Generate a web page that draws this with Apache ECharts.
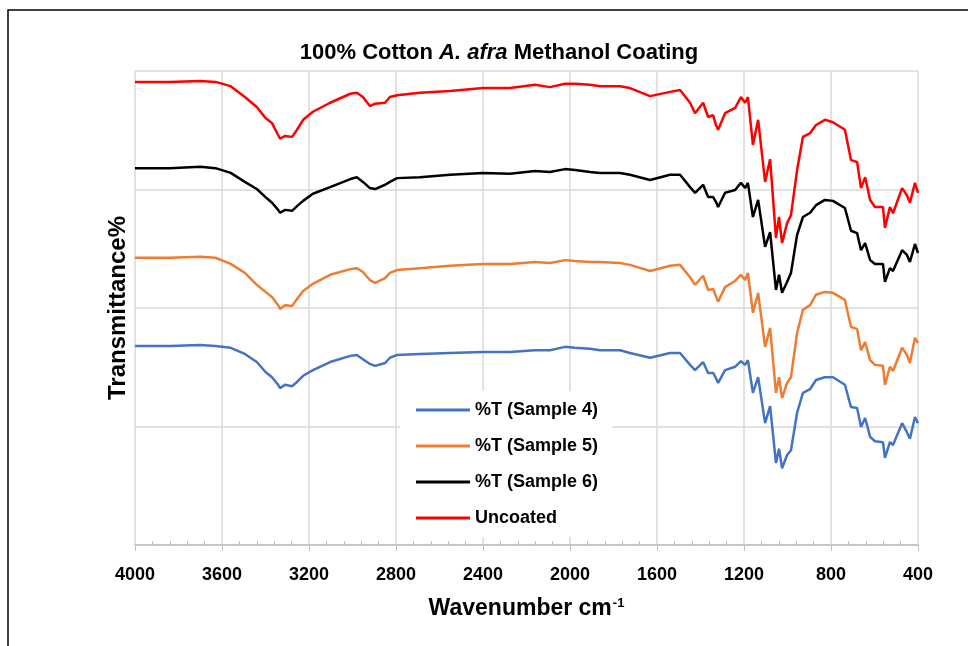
<!DOCTYPE html>
<html>
<head>
<meta charset="utf-8">
<script src="https://cdn.jsdelivr.net/npm/echarts@6/dist/echarts.min.js"></script>
<style>
  html, body { margin: 0; padding: 0; background: #fff; }
  #main { width: 968px; height: 646px; }
</style>
</head>
<body>
<div id="main"></div>
<script>
// 波数 cm-1
var wavenumber = [4000, 3840, 3700, 3630, 3560, 3495, 3440, 3400, 3370, 3342, 3333, 3310, 3278, 3255, 3227, 3182, 3103, 3010, 2980, 2952,
  2920, 2896, 2850, 2828, 2795, 2690, 2552, 2400, 2276, 2161, 2092, 2023, 1977, 1908, 1862, 1770, 1724, 1632, 1540, 1494,
  1448, 1425, 1388, 1365, 1342, 1329, 1319, 1287, 1241, 1214, 1195, 1182, 1159, 1135, 1103, 1080, 1053, 1039, 1025, 1002,
  984, 956, 929, 896, 869, 828, 791, 736, 708, 680, 662, 643, 620, 598, 561, 552, 529, 515, 473, 451,
  437, 414, 400];

// %T (offset)
var sample4 = [42.0, 42.0, 42.2, 42.0, 41.6, 40.3, 38.6, 36.5, 35.4, 33.8, 33.1, 33.8, 33.5, 34.4, 35.7, 36.9, 38.6, 39.9, 40.1, 39.2,
  38.2, 37.8, 38.4, 39.5, 40.1, 40.3, 40.5, 40.7, 40.7, 41.1, 41.1, 41.8, 41.6, 41.4, 41.1, 41.1, 40.5, 39.5, 40.5, 40.5,
  38.0, 36.9, 38.6, 36.3, 36.3, 35.2, 34.2, 36.9, 37.6, 38.8, 38.0, 39.0, 32.1, 35.4, 25.7, 29.3, 17.3, 20.3, 16.2, 19.0,
  20.0, 27.9, 32.1, 32.9, 34.8, 35.4, 35.4, 33.8, 29.1, 28.9, 24.9, 26.8, 22.8, 21.9, 21.7, 18.4, 21.7, 21.1, 25.7, 23.8,
  22.4, 27.0, 25.7];
var sample5 = [60.6, 60.6, 60.8, 60.6, 59.3, 57.4, 54.9, 53.4, 52.3, 50.6, 49.8, 50.6, 50.4, 51.9, 53.6, 55.1, 57.0, 58.2, 58.4, 57.6,
  55.9, 55.3, 56.3, 57.4, 58.0, 58.4, 58.9, 59.3, 59.3, 59.7, 59.5, 60.1, 59.9, 59.7, 59.7, 59.5, 59.1, 57.8, 58.9, 59.1,
  56.5, 54.9, 56.8, 53.8, 54.0, 52.5, 51.3, 54.4, 55.7, 57.0, 55.9, 57.4, 49.0, 53.2, 41.8, 45.8, 32.1, 35.4, 31.0, 34.2,
  35.4, 44.7, 49.6, 50.6, 52.8, 53.4, 53.2, 51.7, 46.0, 45.6, 41.1, 42.8, 39.0, 38.0, 37.8, 33.8, 37.6, 36.7, 41.6, 40.1,
  38.4, 43.7, 42.6];
var sample6 = [79.5, 79.5, 79.8, 79.5, 78.5, 76.6, 75.1, 73.4, 72.2, 70.7, 70.1, 70.7, 70.5, 71.5, 72.6, 74.1, 75.5, 77.2, 77.6, 76.6,
  75.3, 75.1, 76.0, 76.6, 77.4, 77.6, 78.1, 78.5, 78.3, 78.9, 78.7, 79.3, 79.1, 78.7, 78.5, 78.5, 78.1, 77.0, 78.1, 78.1,
  75.5, 74.3, 76.0, 73.4, 73.4, 72.4, 71.3, 74.3, 74.9, 76.4, 75.3, 76.4, 69.2, 72.8, 62.9, 66.0, 53.8, 57.0, 53.2, 55.5,
  57.4, 65.4, 69.2, 70.1, 71.7, 72.8, 72.6, 71.1, 66.3, 65.8, 62.2, 63.7, 60.1, 59.3, 59.3, 55.5, 58.4, 57.8, 62.2, 61.2,
  59.7, 63.5, 61.6];
var uncoated = [97.7, 97.7, 97.9, 97.7, 96.8, 94.5, 92.4, 90.1, 89.0, 86.5, 85.7, 86.3, 86.1, 87.6, 89.7, 91.4, 93.3, 95.2, 95.4, 94.5,
  92.6, 93.1, 93.3, 94.5, 94.9, 95.4, 95.8, 96.4, 96.4, 97.1, 96.6, 97.3, 97.3, 97.1, 96.8, 96.8, 96.4, 94.7, 95.6, 96.0,
  93.3, 91.1, 93.3, 90.3, 90.7, 88.6, 87.6, 91.1, 92.2, 94.5, 93.3, 94.5, 84.4, 89.7, 76.6, 81.4, 64.8, 69.2, 63.7, 67.9,
  69.6, 79.1, 86.1, 86.9, 88.6, 89.7, 89.2, 87.6, 81.2, 80.8, 75.3, 77.6, 72.8, 71.3, 71.3, 66.9, 71.3, 70.0, 75.3, 73.8,
  72.2, 76.4, 74.3];

var seriesNames = ['%T (Sample 4)', '%T (Sample 5)', '%T (Sample 6)', 'Uncoated'];
var seriesColors = ['#4472C4', '#ED7D31', '#000000', '#FF0000'];
var seriesValues = [sample4, sample5, sample6, uncoated];

var fontFamily = '"Liberation Sans", Arial, sans-serif';

function toPairs(values) {
  return wavenumber.map(function (w, i) { return [w, values[i]]; });
}

var series = seriesValues.map(function (values, i) {
  return {
    name: seriesNames[i],
    type: 'line',
    data: toPairs(values),
    symbol: 'none',
    color: seriesColors[i],
    lineStyle: { width: 2.5, color: seriesColors[i] }
  };
});

var chart = echarts.init(document.getElementById('main'), null, { renderer: 'canvas' });

var option = {
  backgroundColor: '#fff',
  animation: false,
  title: {
    text: '{b|100% Cotton }{i|A. afra}{b| Methanol Coating}',
    left: 494,
    top: 37,
    textAlign: 'center',
    textStyle: {
      rich: {
        b: { fontFamily: fontFamily, fontSize: 22, fontWeight: 'bold', color: '#000' },
        i: { fontFamily: fontFamily, fontSize: 22, fontWeight: 'bold', fontStyle: 'italic', color: '#000' }
      }
    }
  },
  legend: {
    orient: 'vertical',
    left: 400,
    top: 391,
    padding: [10, 14, 10, 16],
    backgroundColor: '#fff',
    itemWidth: 54,
    itemHeight: 3,
    itemGap: 18,
    icon: 'rect',
    data: seriesNames,
    textStyle: { fontFamily: fontFamily, fontSize: 18, fontWeight: 'bold', color: '#000' }
  },
  grid: { left: 135, right: 50, top: 71, bottom: 101 },
  xAxis: {
    type: 'value',
    inverse: true,
    min: 400,
    max: 4000,
    interval: 400,
    name: '{n|Wavenumber cm}{s|-1}',
    nameLocation: 'middle',
    nameGap: 52,
    nameTextStyle: {
      rich: {
        n: { fontFamily: fontFamily, fontSize: 23, fontWeight: 'bold', color: '#000' },
        s: { fontFamily: fontFamily, fontSize: 13, fontWeight: 'bold', color: '#000', verticalAlign: 'top', padding: [0, 0, 10, 1] }
      }
    },
    axisLine: { lineStyle: { color: '#bfbfbf', width: 1.5 } },
    axisTick: { show: true, length: 6, lineStyle: { color: '#bfbfbf' } },
    // 小刻度朝上
    minorTick: { show: true, splitNumber: 5, length: -4, lineStyle: { color: '#bfbfbf' } },
    axisLabel: {
      fontFamily: fontFamily, fontSize: 18, fontWeight: 'bold', color: '#000', margin: 21,
      formatter: function (v) { return String(v); }
    },
    splitLine: { show: true, lineStyle: { color: '#d9d9d9', width: 1.5 } }
  },
  yAxis: {
    type: 'value',
    min: 0,
    max: 100,
    interval: 25,
    name: 'Transmittance%',
    nameLocation: 'middle',
    nameGap: 5,
    nameTextStyle: { fontFamily: fontFamily, fontSize: 24, fontWeight: 'bold', color: '#000' },
    axisLine: { show: false },
    axisTick: { show: false },
    axisLabel: { show: false },
    splitLine: { show: true, lineStyle: { color: '#d9d9d9', width: 1.5 } }
  },
  // 外边框
  graphic: [{
    type: 'rect',
    shape: { x: 8, y: 10, width: 1000, height: 700 },
    style: { fill: null, stroke: '#000', lineWidth: 1.5 },
    silent: true
  }],
  series: series
};

chart.setOption(option);
</script>
</body>
</html>
